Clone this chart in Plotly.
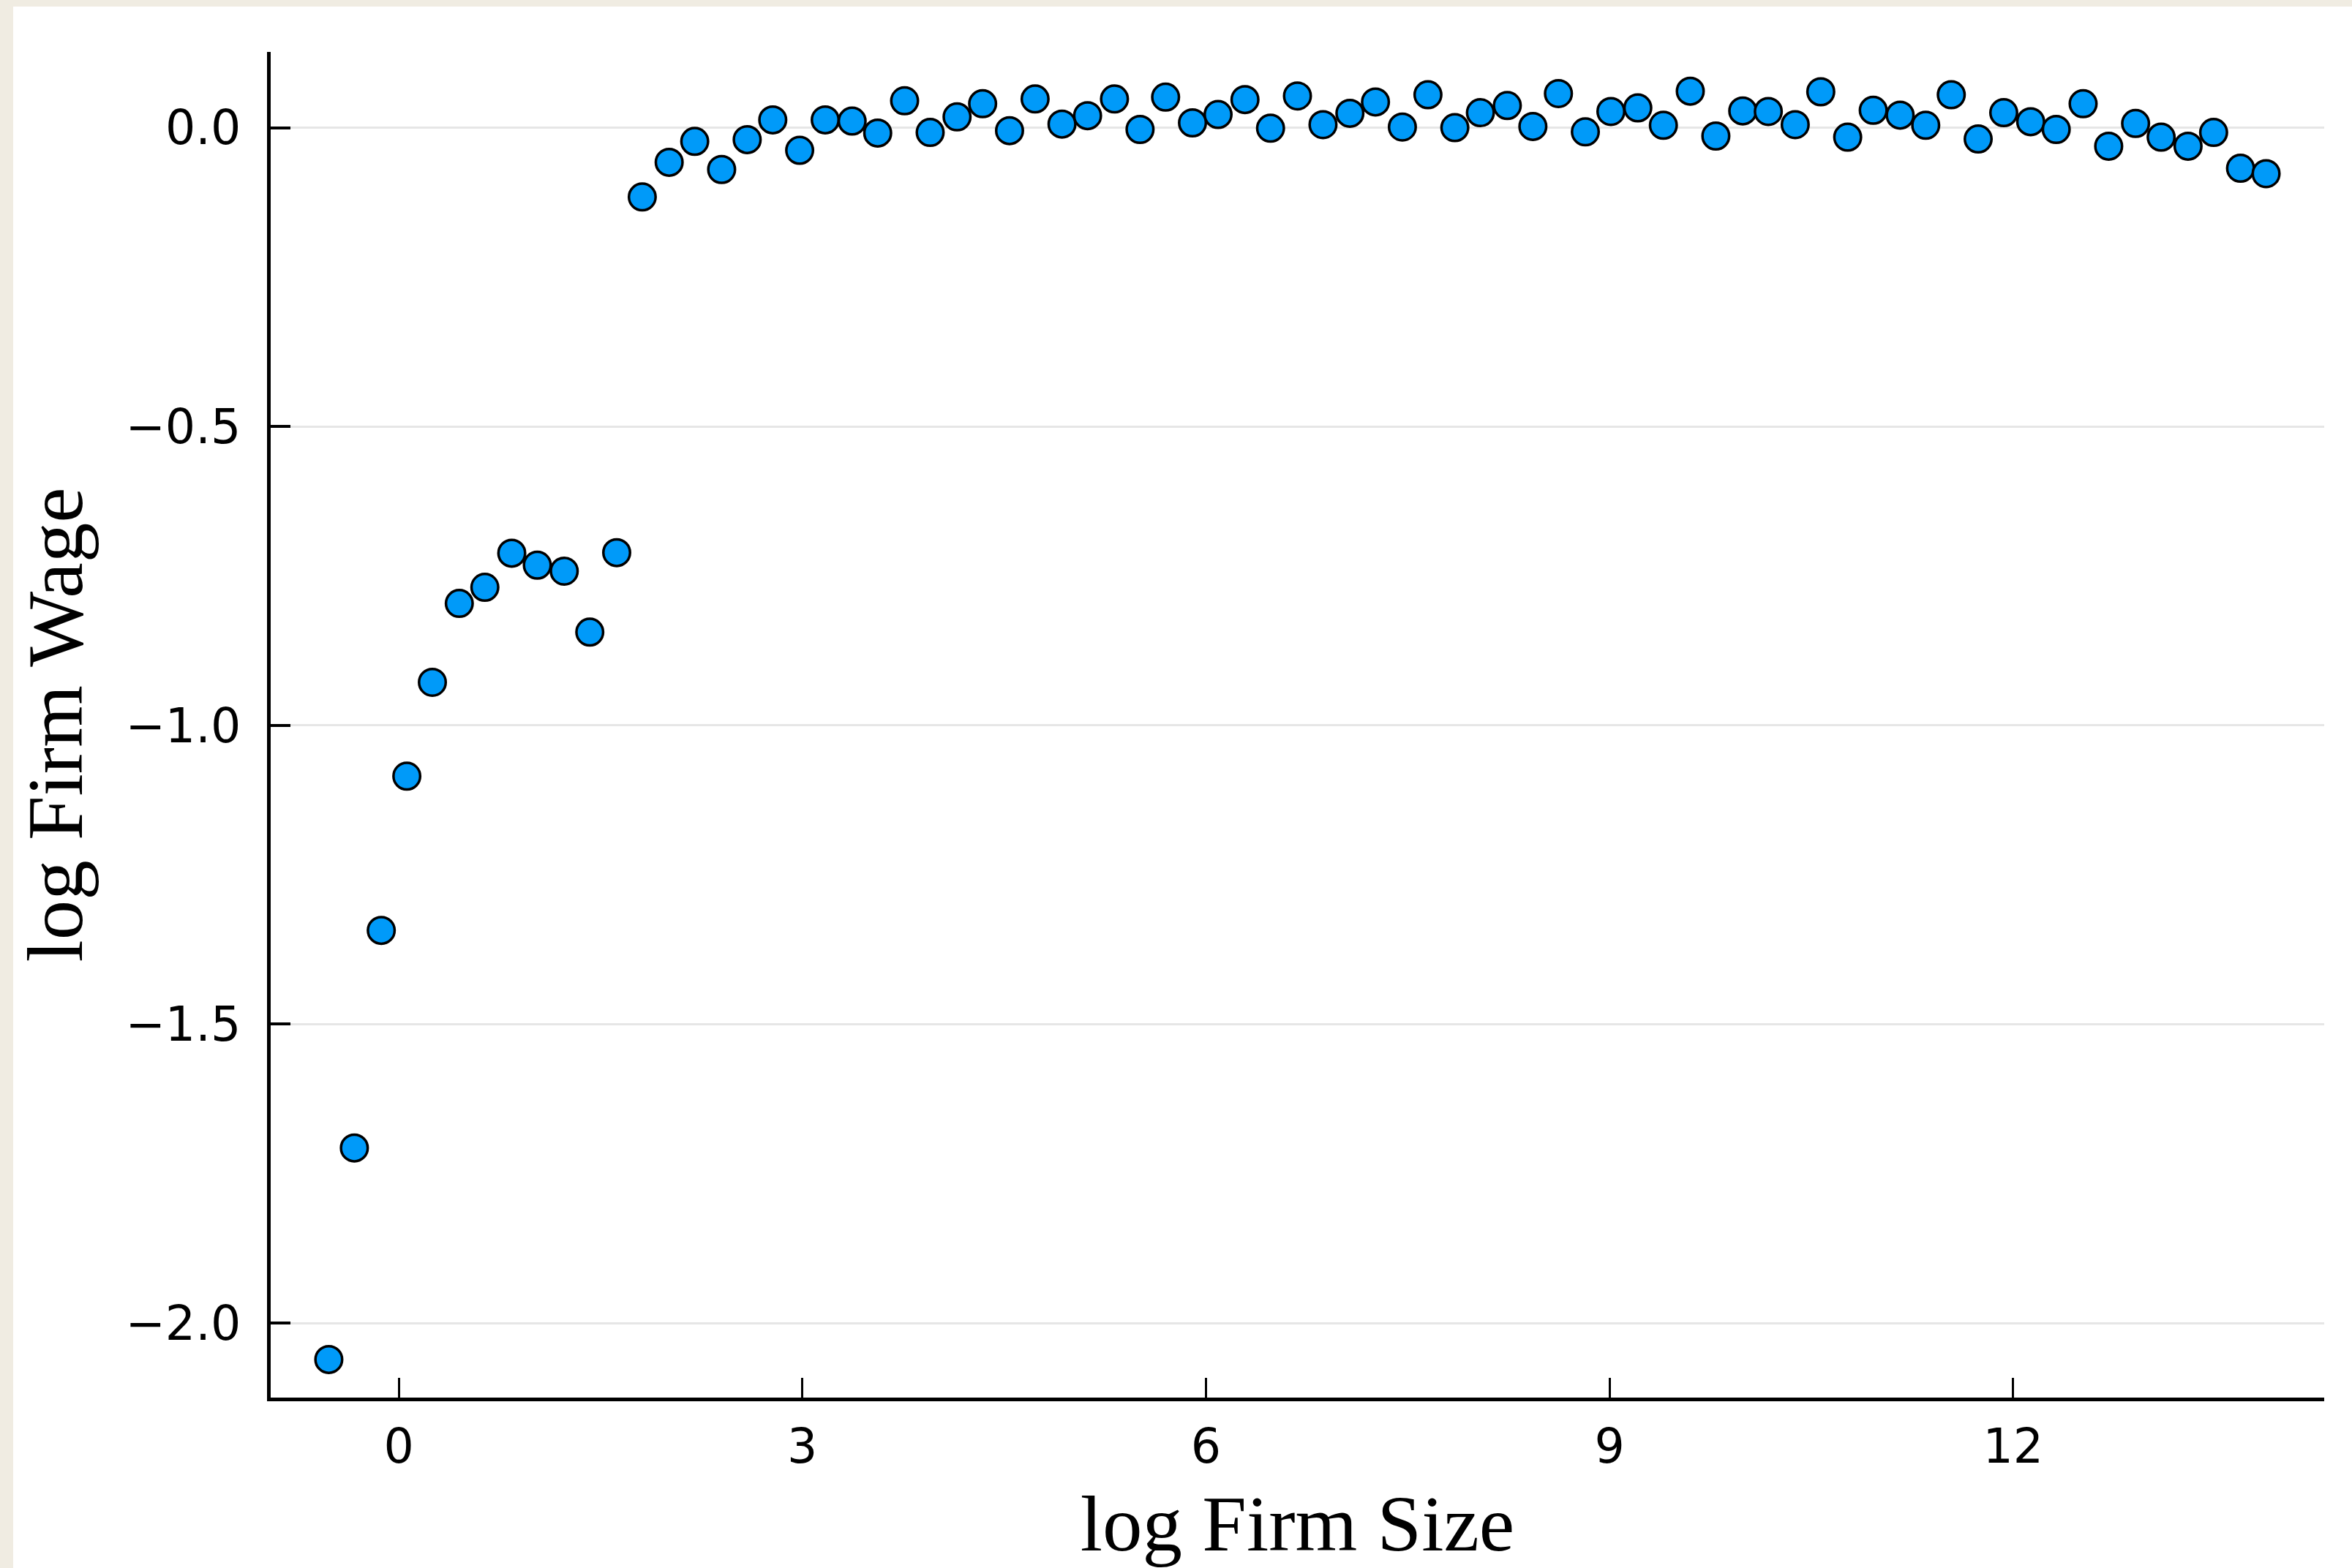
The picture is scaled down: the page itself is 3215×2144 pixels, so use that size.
import plotly.graph_objects as go

# ---- data ----
log_size = [-0.52, -0.33, -0.13, 0.06, 0.25, 0.45, 0.64, 0.84, 1.03, 1.23,
            1.42, 1.62, 1.81, 2.01, 2.20, 2.40, 2.59, 2.78, 2.98, 3.17,
            3.37, 3.56, 3.76, 3.95, 4.15, 4.34, 4.54, 4.73, 4.93, 5.12,
            5.32, 5.51, 5.70, 5.90, 6.09, 6.29, 6.48, 6.68, 6.87, 7.07,
            7.26, 7.46, 7.65, 7.85, 8.04, 8.24, 8.43, 8.62, 8.82, 9.01,
            9.21, 9.40, 9.60, 9.79, 9.99, 10.18, 10.38, 10.57, 10.77, 10.96,
            11.16, 11.35, 11.54, 11.74, 11.93, 12.13, 12.32, 12.52, 12.71, 12.91,
            13.10, 13.30, 13.49, 13.69, 13.88]
log_wage = [-2.061, -1.707, -1.343, -1.085, -0.928, -0.796, -0.769, -0.712, -0.732, -0.742,
            -0.844, -0.711, -0.116, -0.058, -0.023, -0.070, -0.020, 0.013, -0.038, 0.013,
            0.011, -0.009, 0.045, -0.008, 0.018, 0.040, -0.005, 0.048, 0.006, 0.020,
            0.048, -0.003, 0.051, 0.008, 0.022, 0.047, -0.001, 0.053, 0.005, 0.024,
            0.043, 0.001, 0.055, 0.000, 0.025, 0.037, 0.002, 0.057, -0.007, 0.027,
            0.033, 0.004, 0.061, -0.014, 0.028, 0.027, 0.005, 0.060, -0.016, 0.029,
            0.021, 0.004, 0.055, -0.019, 0.025, 0.010, -0.003, 0.040, -0.031, 0.007,
            -0.016, -0.031, -0.008, -0.068, -0.077]
x_ticks = [0, 3, 6, 9, 12]
y_ticks = [-2.0, -1.5, -1.0, -0.5, 0.0]
y_tick_text = ["\u22122.0", "\u22121.5", "\u22121.0", "\u22120.5", "0.0"]

W, H = 3215, 2144
ML, MR, MT, MB = 370, 38, 71, 233
pw, ph = W - ML - MR, H - MT - MB
BEIGE = "#F0ECE2"

fig = go.Figure()
fig.add_trace(go.Scatter(
    x=log_size, y=log_wage, mode="markers",
    marker=dict(size=36.5, color="#009AF9", line=dict(color="black", width=3.5)),
    showlegend=False, hoverinfo="x+y"))

# beige frame strips (left and top) outside the white canvas
fig.add_shape(type="rect", xref="paper", yref="paper", layer="below",
              x0=-2, x1=(18 - ML) / pw, y0=-2, y1=3,
              fillcolor=BEIGE, line=dict(width=0))
fig.add_shape(type="rect", xref="paper", yref="paper", layer="below",
              x0=-2, x1=3, y0=1 + (MT - 9) / ph, y1=3,
              fillcolor=BEIGE, line=dict(width=0))

tickfont = dict(family="DejaVu Sans", size=65, color="black")
titlefont = dict(family="Liberation Serif", size=109, color="black")

fig.update_layout(
    width=W, height=H,
    margin=dict(l=ML, r=MR, t=MT, b=MB, pad=0),
    paper_bgcolor="white", plot_bgcolor="white",
    xaxis=dict(range=[-0.952, 14.312], tickvals=x_ticks, ticktext=[str(t) for t in x_ticks],
               showgrid=False, zeroline=False, showline=True, linecolor="black", linewidth=4.5,
               ticks="inside", ticklen=27, tickwidth=3, tickcolor="black",
               tickfont=tickfont, ticklabelstandoff=6,
               title=dict(text="log Firm Size", font=titlefont, standoff=34)),
    yaxis=dict(range=[-2.1247, 0.1267], tickvals=y_ticks, ticktext=y_tick_text,
               showgrid=True, gridcolor="#E6E6E6", gridwidth=2.5, zeroline=False,
               showline=True, linecolor="black", linewidth=4.5,
               ticks="inside", ticklen=27, tickwidth=4, tickcolor="black",
               tickfont=tickfont, ticklabelstandoff=23,
               title=dict(text="log Firm Wage", font=titlefont, standoff=24)),
)

fig.write_html("out.html", config={"displayModeBar": False},
               post_script="document.body.style.margin='0';document.body.style.overflow='hidden';")
